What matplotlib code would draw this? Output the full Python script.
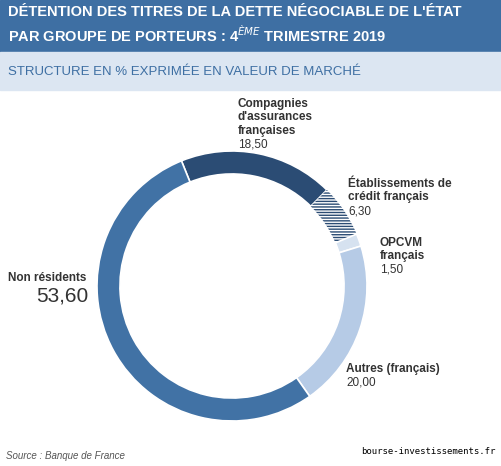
import matplotlib
matplotlib.use("Agg")
import matplotlib.pyplot as plt
from matplotlib.patches import Rectangle

plt.rcParams["font.family"] = ["Liberation Sans", "DejaVu Sans"]

labels = ["Compagnies\nd'assurances\nfrançaises", "Établissements de\ncrédit français",
          "OPCVM\nfrançais", "Autres (français)", "Non résidents"]
values = [18.50, 6.30, 1.50, 20.00, 53.60]
value_text = ["18,50", "6,30", "1,50", "20,00", "53,60"]
colors = ["#2b4c74", "#ffffff", "#d6e2f0", "#b6cbe6", "#4172a5"]

W, H = 502, 466
fig = plt.figure(figsize=(W / 100, H / 100), dpi=100)
bg = fig.add_axes([0, 0, 1, 1])
bg.set_xlim(0, W)
bg.set_ylim(H, 0)
bg.axis("off")

bg.add_patch(Rectangle((0, 0), W, 52, color="#3e6fa3"))
bg.add_patch(Rectangle((0, 52), W, 38, color="#dce6f2"))
bg.text(8, 25, "DÉTENTION DES TITRES DE LA DETTE NÉGOCIABLE DE L'ÉTAT\nPAR GROUPE DE PORTEURS : 4$^{ÈME}$ TRIMESTRE 2019",
        color="white", fontsize=10.5, fontweight="bold", va="center", linespacing=1.3)
bg.text(8, 72, "STRUCTURE EN % EXPRIMÉE EN VALEUR DE MARCHÉ", color="#3e6fa3",
        fontsize=9.5, va="center")
bg.text(6, 456, "Source : Banque de France", color="#555555", fontsize=7,
        style="italic", va="center")
bg.text(496, 452, "bourse-investissements.fr", family="DejaVu Sans Mono",
        fontsize=6.5, ha="right", va="center")

cx, cy, r = 232, 286, 135
ax = fig.add_axes([(cx - r) / W, 1 - (cy + r) / H, 2 * r / W, 2 * r / H])
wedges, _ = ax.pie(values, colors=colors, startangle=112, counterclock=False,
                   wedgeprops=dict(width=0.17, edgecolor="white", linewidth=1.2))
wedges[1].set_hatch("------")
wedges[1].set_edgecolor("#2b4c74")
wedges[1].set_linewidth(0)
ax.set_xlim(-1, 1)
ax.set_ylim(-1, 1)
ax.set_aspect("equal")
ax.axis("off")

# labels
pos = [(238, 98, "left"), (348, 178, "left"), (380, 237, "left"),
       (346, 363, "left"), (8, 272, "left")]
for (x, y, ha), lab, v in zip(pos, labels, value_text):
    n = lab.count("\n") + 1
    bg.text(x, y, lab, fontsize=8.5, fontweight="bold", color="#333333",
            va="top", ha=ha, linespacing=1.15)
    if lab.startswith("Non"):
        bg.text(36, y + 14, v, fontsize=15, color="#333333", va="top")
    else:
        bg.text(x, y + n * 13.5, v, fontsize=8.5, color="#333333", va="top")

fig.savefig("out.png", dpi=100)
